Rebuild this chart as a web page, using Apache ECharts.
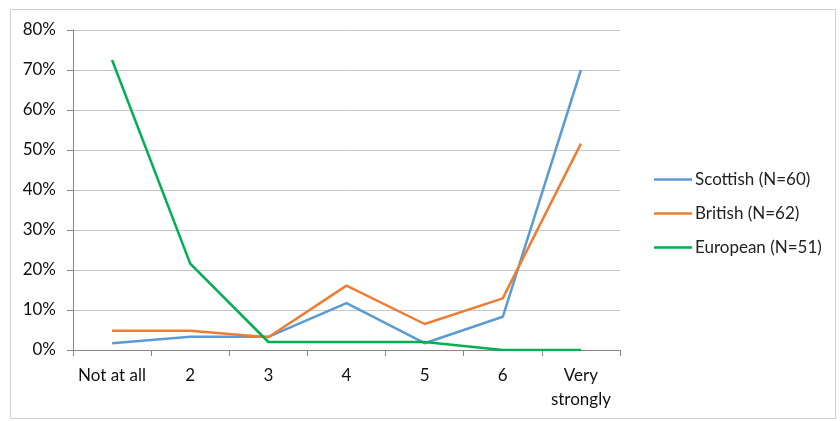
<!DOCTYPE html>
<html><head><meta charset="utf-8">
<script src="https://cdn.jsdelivr.net/npm/echarts@6/dist/echarts.min.js"></script>
<style>html,body{margin:0;padding:0;background:#fff}#c{width:840px;height:421px;position:relative}
#frame{position:absolute;left:10px;top:9px;width:826px;height:410px;border:1px solid #d0d0d0;box-sizing:border-box;pointer-events:none}</style>
</head><body><div id="c"></div><div id="frame"></div>
<script>
const categories = ['Not at all', '2', '3', '4', '5', '6', 'Very\nstrongly'];
const scottish = [1.7, 3.3, 3.3, 11.7, 1.7, 8.3, 70.0];
const british = [4.8, 4.8, 3.2, 16.1, 6.5, 12.9, 51.6];
const european = [72.5, 21.6, 2.0, 2.0, 2.0, 0.0, 0.0];
const seriesNames = ['Scottish (N=60)', 'British (N=62)', 'European (N=51)'];
const colors = ['#5B9BD5', '#ED7D31', '#00B050'];

const chart = echarts.init(document.getElementById('c'));
const font = 'Lato, "Open Sans", sans-serif';
const mk = (name, data, color) => ({
  name, type: 'line', data, symbol: 'none', color,
  lineStyle: { width: 2.5, color }, animation: false
});
chart.setOption({
  animation: false,
  textStyle: { fontFamily: font },
  grid: { left: 73, right: 220, top: 30, bottom: 71 },
  legend: {
    orient: 'vertical', left: 649, top: 166, itemGap: 17,
    itemWidth: 38, itemHeight: 19, icon: 'path://M0,8 L38,8 L38,10.5 L0,10.5 Z',
    textStyle: { fontSize: 17, color: '#222', fontFamily: font, padding: [0, 0, 0, -2] },
    data: seriesNames
  },
  xAxis: {
    type: 'category', data: categories, boundaryGap: true,
    axisLine: { lineStyle: { color: '#868686', width: 1 } },
    axisTick: { show: true, length: 6, lineStyle: { color: '#868686' } },
    axisLabel: { interval: 0, fontSize: 17, color: '#111', margin: 14, lineHeight: 24, fontFamily: font }
  },
  yAxis: {
    type: 'value', min: 0, max: 80, interval: 10,
    axisLine: { show: true, lineStyle: { color: '#868686' } },
    axisTick: { show: true, length: 6, lineStyle: { color: '#868686' } },
    splitLine: { lineStyle: { color: '#c8c8c8' } },
    axisLabel: { formatter: v => v + '%', fontSize: 17, color: '#111', margin: 17, fontFamily: font }
  },
  series: [
    mk(seriesNames[0], scottish, colors[0]),
    mk(seriesNames[1], british, colors[1]),
    mk(seriesNames[2], european, colors[2])
  ]
});
</script></body></html>
